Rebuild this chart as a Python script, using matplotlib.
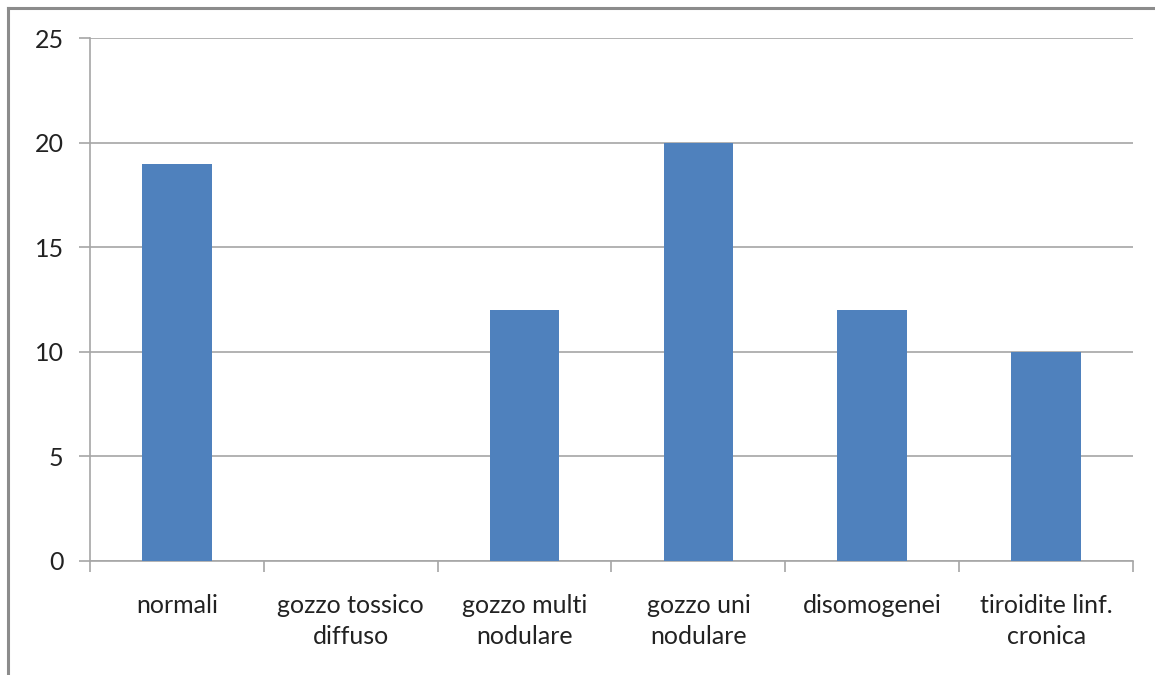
import matplotlib
matplotlib.use("Agg")
import matplotlib.pyplot as plt
from matplotlib.lines import Line2D

categories = ["normali", "gozzo tossico\ndiffuso", "gozzo multi\nnodulare",
              "gozzo uni\nnodulare", "disomogenei", "tiroidite linf.\ncronica"]
values = [19, 0, 12, 20, 12, 10]
yticks = [0, 5, 10, 15, 20, 25]

plt.rcParams['font.family'] = ['Lato', 'DejaVu Sans']

fig = plt.figure(figsize=(11.55, 6.75), dpi=100)
ax = fig.add_axes([90/1155, 1-561/675, (1133-90)/1155, (561-38)/675])

grid_c = "#A6A6A6"
x = list(range(len(categories)))
ax.bar(x, values, width=0.4, color="#4F81BD", zorder=3)
ax.set_xlim(-0.5, len(categories) - 0.5)
ax.set_ylim(0, 25)
ax.set_yticks(yticks)
ax.set_yticklabels([str(t) for t in yticks], fontsize=18, color="#222222")
ax.yaxis.grid(True, color=grid_c, linewidth=1.2, zorder=0)
ax.tick_params(axis='y', length=8, width=1.2, color=grid_c, pad=11)

ax.set_xticks([i - 0.5 for i in range(len(categories) + 1)], minor=False)
ax.set_xticklabels([])
ax.tick_params(axis='x', which='major', length=8, width=1.2, color=grid_c)
ax.set_xticks(x, minor=True)
ax.set_xticklabels(categories, minor=True, fontsize=18, color="#222222", linespacing=1.4)
ax.tick_params(axis='x', which='minor', length=0, pad=24)

for s in ["top", "right"]:
    ax.spines[s].set_visible(False)
ax.spines["left"].set_color(grid_c)
ax.spines["bottom"].set_color(grid_c)
ax.spines["left"].set_linewidth(1.2)
ax.spines["bottom"].set_linewidth(1.2)

# outer frame (page border)
fig.add_artist(Line2D([8/1155, 1], [1-8/675, 1-8/675], color="#8C8C8C", linewidth=2.2, transform=fig.transFigure))
fig.add_artist(Line2D([8/1155, 8/1155], [0, 1-8/675], color="#8C8C8C", linewidth=2.2, transform=fig.transFigure))

fig.savefig("out.png", dpi=100)
